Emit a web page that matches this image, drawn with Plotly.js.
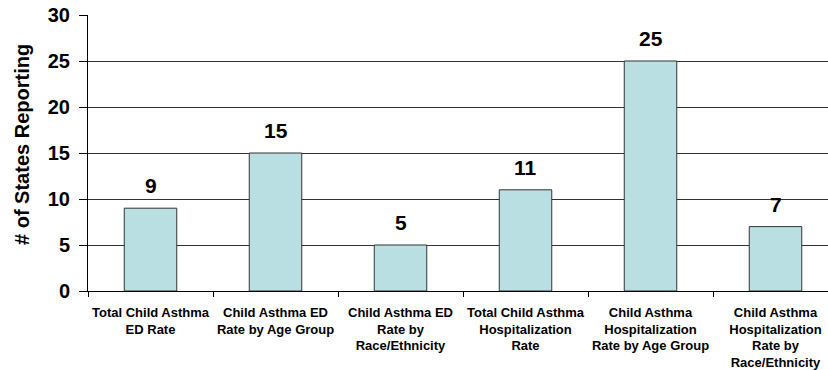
<!DOCTYPE html>
<html>
<head>
<meta charset="utf-8">
<script src="https://cdn.plot.ly/plotly-3.0.1.min.js"></script>
<style>
html,body{margin:0;padding:0;background:#fff;overflow:hidden;}
#wrap{width:828px;height:370px;overflow:hidden;position:relative;}
#chart{width:850px;height:370px;}
</style>
</head>
<body>
<div id="wrap"><div id="chart"></div></div>
<script>
const categories = [
  "Total Child Asthma<br>ED Rate",
  "Child Asthma ED<br>Rate by Age Group",
  "Child Asthma ED<br>Rate by<br>Race/Ethnicity",
  "Total Child Asthma<br>Hospitalization<br>Rate",
  "Child Asthma<br>Hospitalization<br>Rate by Age Group",
  "Child Asthma<br>Hospitalization<br>Rate by<br>Race/Ethnicity"
];
const statesReporting = [9, 15, 5, 11, 25, 7];
const yTickValues = [0, 5, 10, 15, 20, 25, 30];
const yTitle = "# of States Reporting";

const FONT = "Liberation Sans, Arial, sans-serif";

const trace = {
  type: "bar",
  x: categories,
  y: statesReporting,
  marker: {color: "#B9DFE2", line: {color: "#333333", width: 1}},
  hoverinfo: "none"
};

const annotations = categories.map((c, i) => ({
  x: c, y: statesReporting[i], xref: "x", yref: "y",
  text: String(statesReporting[i]),
  showarrow: false, yanchor: "bottom", yshift: 9,
  font: {family: FONT, size: 21, color: "#000", weight: "bold"}
}));

annotations.push({
  xref: "paper", yref: "paper", x: 0, y: 0.529,
  xanchor: "center", yanchor: "middle", xshift: -66,
  textangle: -90, showarrow: false,
  text: yTitle,
  font: {family: FONT, size: 20, color: "#000", weight: "bold"}
});

const layout = {
  width: 850, height: 370,
  margin: {l: 88, r: 12, t: 15, b: 79},
  paper_bgcolor: "#fff", plot_bgcolor: "#fff",
  bargap: 0.58,
  showlegend: false,
  font: {family: FONT, color: "#000"},
  xaxis: {
    type: "category",
    showgrid: false,
    showline: true, linecolor: "#000", linewidth: 1,
    ticks: "outside", tickson: "boundaries", ticklen: 5, tickcolor: "#000",
    tickangle: 0,
    tickfont: {family: FONT, size: 13, color: "#000", weight: "bold"},
    ticklabelstandoff: 9
  },
  yaxis: {
    range: [0, 30],
    tickvals: yTickValues,
    showgrid: true, gridcolor: "#333", gridwidth: 1,
    zeroline: false,
    showline: true, linecolor: "#000", linewidth: 1,
    ticks: "outside", ticklen: 8, tickcolor: "#000",
    tickfont: {family: FONT, size: 20, color: "#000", weight: "bold"},
    ticklabelstandoff: 5
  },
  annotations: annotations
};

Plotly.newPlot("chart", [trace], layout, {staticPlot: true, displayModeBar: false});
</script>
</body>
</html>
